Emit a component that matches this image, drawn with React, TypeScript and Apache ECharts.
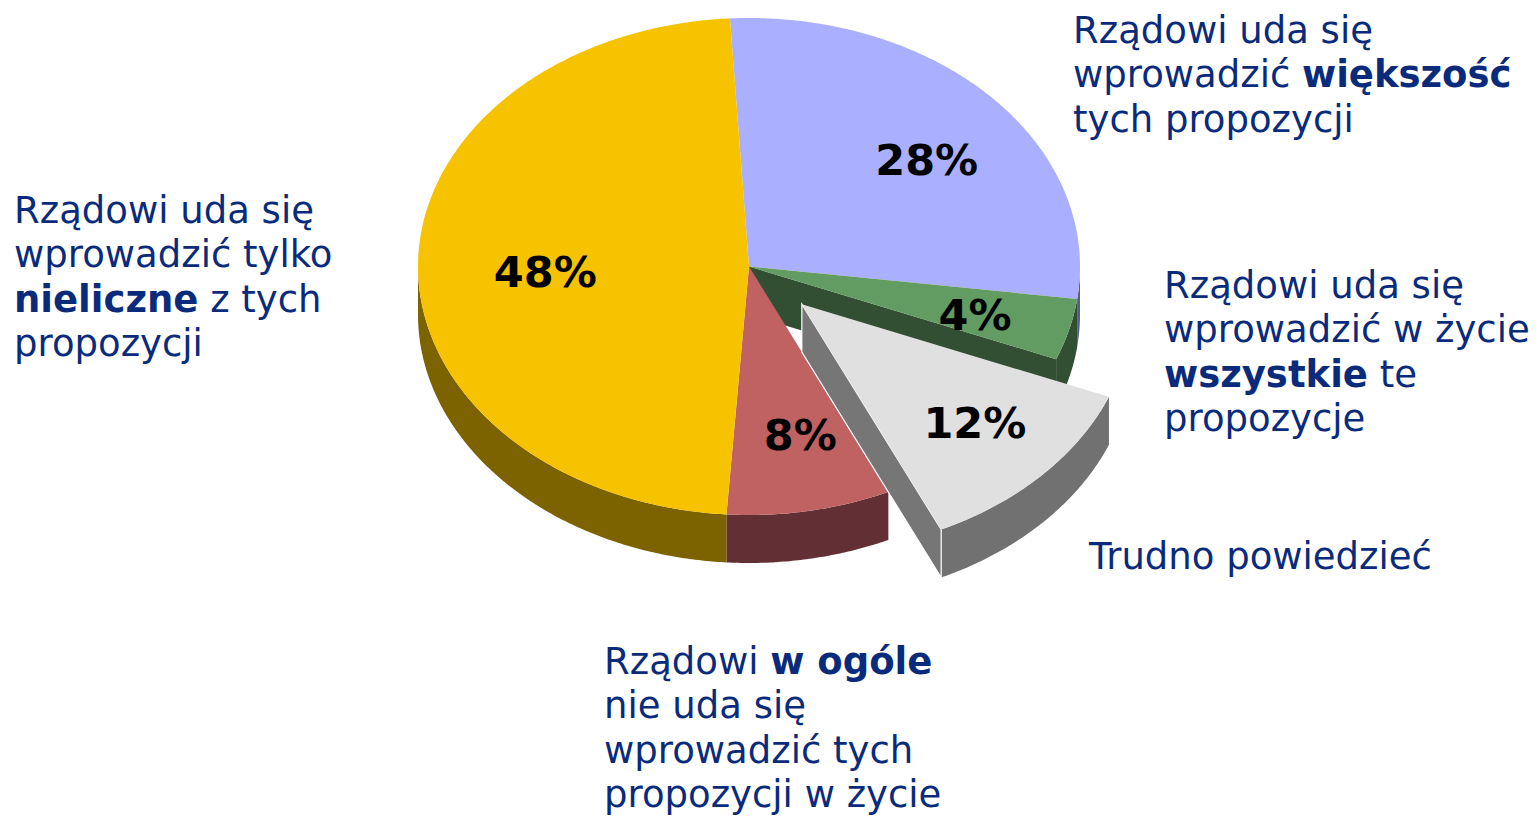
import React, { useEffect, useRef } from 'react';
import * as echarts from 'echarts';

// ---- data ----
const categories = [
  'Rządowi uda się wprowadzić większość tych propozycji',
  'Rządowi uda się wprowadzić w życie wszystkie te propozycje',
  'Trudno powiedzieć',
  'Rządowi w ogóle nie uda się wprowadzić tych propozycji w życie',
  'Rządowi uda się wprowadzić tylko nieliczne z tych propozycji',
];
const values = [28, 4, 12, 8, 48];
const exploded = [false, false, true, false, false];

const categoryLabels = [
  '{n|Rządowi uda się}\n{n|wprowadzić }{b|większość}\n{n|tych propozycji}',
  '{n|Rządowi uda się}\n{n|wprowadzić w życie}\n{b|wszystkie}{n| te}\n{n|propozycje}',
  '{n|Trudno powiedzieć}',
  '{n|Rządowi }{b|w ogóle}\n{n|nie uda się}\n{n|wprowadzić tych}\n{n|propozycji w życie}',
  '{n|Rządowi uda się}\n{n|wprowadzić tylko}\n{b|nieliczne}{n| z tych}\n{n|propozycji}',
];

// ---- styles / layout ----
const labelAnchors = [
  [1073, 30],
  [1164, 285],
  [1089, 556],
  [604, 661],
  [14, 210],
];
const pctNudge = [
  [8, 12],
  [2, 4],
  [5, -1],
  [9, -3],
  [28, 6],
];
const topColors = ['#AAB0FF', '#639C63', '#E0E0E0', '#C06262', '#F7C300'];
const sideColors = ['#585C88', '#334F33', '#717171', '#623034', '#7D6200'];
const cutColors = ['#585C88', '#334F33', '#767676', '#623034', '#7D6200'];

const CX = 749;
const CY = 266.5;
const RX = 331;
const RY = 248.5;
const DEPTH = 48;
const START = -3.3;
const EXPLODE = 0.22;
const LABEL_R = 0.7;
const FONT = '"DejaVu Sans", Verdana, sans-serif';
const TEXT_COLOR = '#0A2B7C';
const LINE_H = 44.5;
const CAT_SIZE = 37;
const PCT_SIZE = 43;

const rad = (d: number) => (d * Math.PI) / 180;
const pt = (th: number, ox: number, oy: number, dz: number): number[] => [
  CX + ox + RX * Math.sin(rad(th)),
  CY + oy - RY * Math.cos(rad(th)) + dz,
];
const arc = (a: number, b: number, ox: number, oy: number, dz: number) => {
  const n = Math.max(2, Math.ceil(Math.abs(b - a) / 0.5));
  const out: number[][] = [];
  for (let k = 0; k <= n; k++) out.push(pt(a + ((b - a) * k) / n, ox, oy, dz));
  return out;
};

export default function App() {
  const ref = useRef<HTMLDivElement>(null);

  useEffect(() => {
    if (!ref.current) return;
    const chart = echarts.init(ref.current, undefined, { renderer: 'svg' });
    const total = values.reduce((s, v) => s + v, 0);
    const n = values.length;

    const richStyles = {
      n: { fontSize: CAT_SIZE, fontFamily: FONT, fontWeight: 'normal', fill: TEXT_COLOR, lineHeight: LINE_H },
      b: { fontSize: CAT_SIZE, fontFamily: FONT, fontWeight: 'bold', fill: TEXT_COLOR, lineHeight: LINE_H },
    };

    const graphics = categoryLabels.map((txt, i) => ({
      type: 'text',
      x: labelAnchors[i][0],
      y: labelAnchors[i][1] - LINE_H / 2,
      z: 10,
      style: {
        text: txt,
        rich: richStyles,
        fontSize: CAT_SIZE,
        fontFamily: FONT,
        fill: TEXT_COLOR,
        textAlign: 'left',
        textVerticalAlign: 'top',
        align: 'left',
        verticalAlign: 'top',
      },
    }));

    const renderItem = (params: any, api: any) => {
      const i = params.dataIndex;
      const v = api.value(0);
      let before = 0;
      for (let k = 0; k < i; k++) before += values[k];
      const a0 = START + (360 * before) / total;
      const a1 = a0 + (360 * v) / total;
      const mid = (a0 + a1) / 2;
      const ex = exploded[i];
      const ox = ex ? EXPLODE * RX * Math.sin(rad(mid)) : 0;
      const oy = ex ? -EXPLODE * RY * Math.cos(rad(mid)) : 0;
      const zb = ex ? 20 : 0;
      const children: any[] = [];

      // outer wall (front half only)
      const w0 = Math.max(a0, 90);
      const w1 = Math.min(a1, 270);
      if (w1 > w0) {
        const top = arc(w0, w1, ox, oy, 0);
        const bot = arc(w1, w0, ox, oy, DEPTH);
        children.push({
          type: 'polygon',
          shape: { points: top.concat(bot) },
          style: { fill: sideColors[i] },
          z2: zb + 1,
        });
      }

      // radial cut faces next to an exploded slice
      const c = [CX + ox, CY + oy];
      const face = (a: number) => {
        const e = pt(a, ox, oy, 0);
        children.push({
          type: 'polygon',
          shape: { points: [c, e, [e[0], e[1] + DEPTH], [c[0], c[1] + DEPTH]] },
          style: ex
            ? { fill: cutColors[i], stroke: '#FFFFFF', lineWidth: 1.2 }
            : { fill: cutColors[i] },
          z2: zb + 2,
        });
      };
      const prevEx = exploded[(i - 1 + n) % n];
      const nextEx = exploded[(i + 1) % n];
      if ((ex || nextEx) && Math.sin(rad(a1)) > 0) face(a1);
      if ((ex || prevEx) && Math.sin(rad(a0)) < 0) face(a0);

      // top face
      children.push({
        type: 'polygon',
        shape: { points: [c].concat(arc(a0, a1, ox, oy, 0)) },
        style: { fill: topColors[i] },
        z2: zb + 3,
      });

      // percent label
      const lp = [
        CX + ox + RX * LABEL_R * Math.sin(rad(mid)) + pctNudge[i][0],
        CY + oy - RY * LABEL_R * Math.cos(rad(mid)) + pctNudge[i][1],
      ];
      children.push({
        type: 'text',
        x: lp[0],
        y: lp[1],
        z2: 100,
        style: {
          text: v + '%',
          fontSize: PCT_SIZE,
          fontWeight: 'bold',
          fontFamily: FONT,
          fill: '#000000',
          textAlign: 'center',
          textVerticalAlign: 'middle',
          align: 'center',
          verticalAlign: 'middle',
        },
      });

      return { type: 'group', children };
    };

    chart.setOption({
      animation: false,
      backgroundColor: '#FFFFFF',
      graphic: graphics,
      series: [
        {
          type: 'custom',
          coordinateSystem: 'none',
          name: 'Opinie',
          silent: true,
          renderItem,
          data: values.map((v, i) => ({ name: categories[i], value: [v] })),
        },
      ],
    });

    return () => chart.dispose();
  }, []);

  return (
    <div
      ref={ref}
      style={{ position: 'fixed', left: 0, top: 0, width: 1538, height: 817 }}
    />
  );
}
